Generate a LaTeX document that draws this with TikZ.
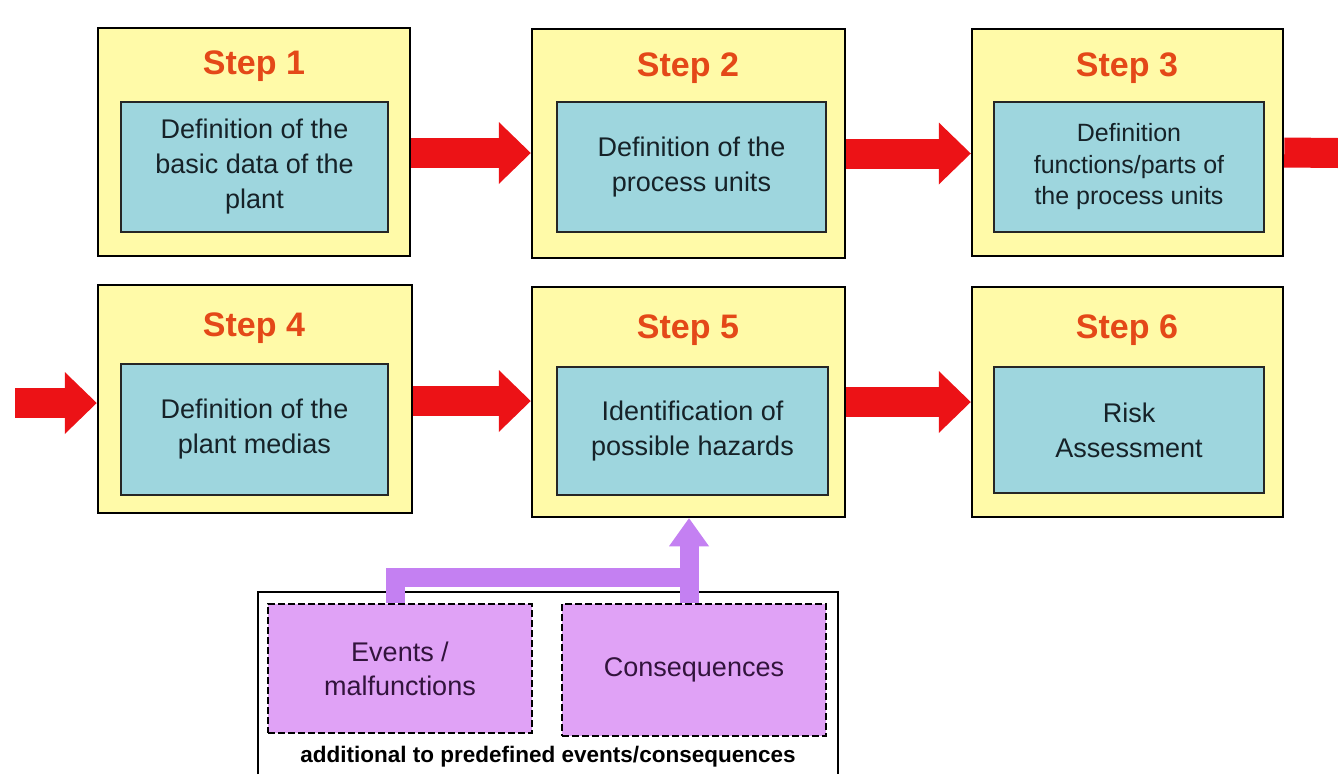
\documentclass[tikz,border=0pt]{standalone}
\usepackage{fontspec}
\setmainfont{Liberation Sans}
\usetikzlibrary{arrows.meta}
\definecolor{boxyellow}{RGB}{255,250,168}
\definecolor{boxcyan}{RGB}{158,214,222}
\definecolor{titlered}{RGB}{228,72,24}
\definecolor{arrowred}{RGB}{236,18,22}
\definecolor{lilac}{RGB}{224,162,246}
\definecolor{violetarrow}{RGB}{196,128,242}
\definecolor{inktext}{RGB}{22,34,40}
\definecolor{purpletext}{RGB}{50,20,60}
\begin{document}
\begin{tikzpicture}[x=1pt,y=-1pt,
  stepbox/.style={draw=black,line width=2.5pt,fill=boxyellow,inner sep=0pt},
  innerbox/.style={draw=black!85,line width=2.4pt,fill=boxcyan,align=center,text=inktext,
    font=\fontsize{27}{35}\selectfont,inner sep=0pt},
  steptitle/.style={text=titlered,font=\bfseries\fontsize{34}{40}\selectfont,inner sep=0pt},
  redarrow/.style={draw=arrowred,line width=30pt,-{Triangle[length=32pt,width=62pt,line width=0pt]}},
  redshaft/.style={draw=arrowred,line width=30pt},
  purpbox/.style={draw=black,line width=2pt,dash pattern=on 7pt off 3pt,fill=lilac,align=center,
    text=purpletext,font=\fontsize{27}{34}\selectfont,inner sep=0pt},
  purparrow/.style={draw=violetarrow,line width=19pt,line join=miter,-{Triangle[length=28pt,width=40pt,line width=0pt]}},
  purpline/.style={draw=violetarrow,line width=19pt}
]
\useasboundingbox[fill=white] (0,0) rectangle (1338,774);

% Row 1
\node[stepbox,minimum width=312pt,minimum height=228pt] (s1) at (254,142) {};
\node[innerbox,minimum width=267pt,minimum height=130pt] (i1) at (254.5,167) {Definition of the\\basic data of the\\plant};
\node[steptitle] (t1) at (254,66) {Step 1};

\node[stepbox,minimum width=313pt,minimum height=229pt] (s2) at (688.5,143.5) {};
\node[innerbox,minimum width=269pt,minimum height=130pt] (i2) at (691.5,167) {Definition of the\\process units};
\node[steptitle] (t2) at (688,68) {Step 2};

\node[stepbox,minimum width=311pt,minimum height=227pt] (s3) at (1127.5,142.5) {};
\node[innerbox,minimum width=270pt,minimum height=130pt,font=\fontsize{25}{31.5}\selectfont] (i3) at (1129,167) {Definition\\functions/parts of\\the process units};
\node[steptitle] (t3) at (1127,68) {Step 3};

% Row 2
\node[stepbox,minimum width=314pt,minimum height=228pt] (s4) at (255,399) {};
\node[innerbox,minimum width=267pt,minimum height=131pt] (i4) at (254.5,429.5) {Definition of the\\plant medias};
\node[steptitle] (t4) at (254,328) {Step 4};

\node[stepbox,minimum width=313pt,minimum height=230pt] (s5) at (688.5,402) {};
\node[innerbox,minimum width=271pt,minimum height=128pt] (i5) at (692.5,431) {Identification of\\possible hazards};
\node[steptitle] (t5) at (688,330) {Step 5};

\node[stepbox,minimum width=311pt,minimum height=230pt] (s6) at (1127.5,402) {};
\node[innerbox,minimum width=270pt,minimum height=126pt] (i6) at (1129,430) {Risk\\Assessment};
\node[steptitle] (t6) at (1127,330) {Step 6};

% Bottom group
\draw[line width=2pt] (258,774) |- (838,592) -- (838,774);
\node[purpbox,minimum width=264pt,minimum height=129pt] (ev) at (400,668.5) {Events /\\malfunctions};
\node[purpbox,minimum width=264pt,minimum height=132pt] (co) at (694,670) {Consequences};
\node[font=\bfseries\fontsize{22.5}{26}\selectfont,inner sep=0pt] (cap) at (548,757) {additional to predefined events/consequences};

% Red arrows
\coordinate (e3) at (1338,153);
\coordinate (b4) at (15,403);
\draw[redarrow] ([yshift=-11pt]s1.east) -- ([yshift=-11pt]s1.east -| s2.west);
\draw[redarrow] ([yshift=-10pt]s2.east) -- ([yshift=-10pt]s2.east -| s3.west);
\draw[redshaft] ([yshift=-10pt]s3.east) -- (e3);
\draw[redarrow] (b4) -- (b4 -| s4.west);
\draw[redarrow] ([yshift=-2pt]s4.east) -- ([yshift=-2pt]s4.east -| s5.west);
\draw[redarrow] (s5.east) -- (s6.west);

% Purple connectors
\coordinate (j) at (689,577);
\draw[purpline] (co.north -| j) -- (j);
\draw[purparrow] ([xshift=-5pt]ev.north) |- (j) -- (j |- s5.south);
\end{tikzpicture}
\end{document}
